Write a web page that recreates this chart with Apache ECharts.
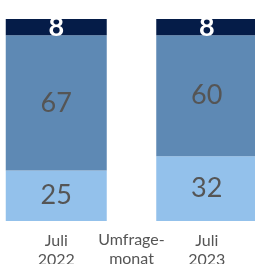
<!DOCTYPE html>
<html>
<head>
<meta charset="utf-8">
<script src="https://cdn.jsdelivr.net/npm/echarts@6/dist/echarts.min.js"></script>
<style>
  html, body { margin: 0; padding: 0; background: #fff; }
  #chart { width: 255px; height: 264px; }
</style>
</head>
<body>
<div id="chart"></div>
<script>
const categories = ['Juli\n2022', 'Juli\n2023']
const lowValues = [25, 32]
const midValues = [67, 60]
const topValues = [8, 8]

const chart = echarts.init(document.getElementById('chart'))

const greyLabel = {
  show: true,
  color: '#555555',
  fontFamily: 'Lato',
  fontSize: 27
}

chart.setOption({
  animation: false,
  grid: { left: -19, right: -27, top: 19, bottom: 43, outerBoundsMode: 'none', containLabel: false },
  xAxis: {
    type: 'category',
    data: categories,
    name: 'Umfrage-\nmonat',
    nameLocation: 'middle',
    nameGap: 9,
    nameMoveOverlap: false,
    nameTextStyle: {
      color: '#555555',
      fontFamily: 'Lato',
      fontSize: 16,
      lineHeight: 19,
      verticalAlign: 'top'
    },
    axisLine: { show: false },
    axisTick: { show: false },
    axisLabel: {
      color: '#555555',
      fontFamily: 'Lato',
      fontSize: 16,
      lineHeight: 19,
      margin: 10
    }
  },
  yAxis: { type: 'value', min: 0, max: 100, show: false },
  series: [
    {
      type: 'bar',
      stack: 'total',
      barWidth: 101,
      data: lowValues,
      itemStyle: { color: '#93c1eb' },
      label: greyLabel
    },
    {
      type: 'bar',
      stack: 'total',
      barWidth: 101,
      data: midValues,
      itemStyle: { color: '#5e89b4' },
      label: greyLabel
    },
    {
      type: 'bar',
      stack: 'total',
      barWidth: 101,
      data: topValues,
      itemStyle: { color: '#051c48' },
      label: {
        show: true,
        color: '#ffffff',
        fontFamily: 'Lato',
        fontWeight: 'bold',
        fontSize: 27
      }
    }
  ]
})
</script>
</body>
</html>
